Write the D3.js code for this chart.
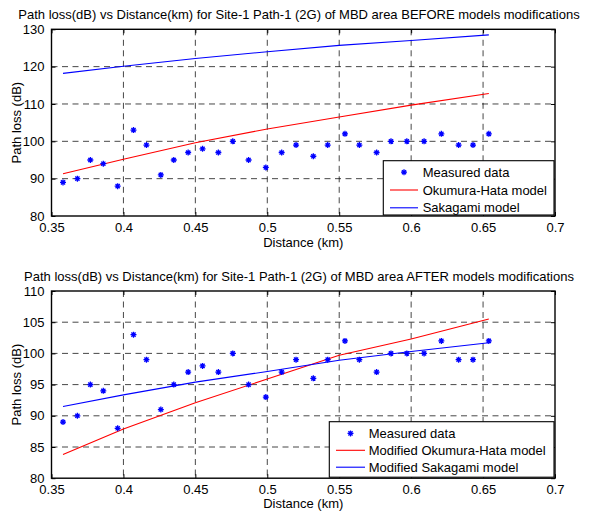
<!DOCTYPE html>
<html><head><meta charset="utf-8">
<script src="https://cdn.jsdelivr.net/npm/d3@7"></script>
<style>
body{margin:0;background:#fff;}
text{font-family:"Liberation Sans",Arial,Helvetica,sans-serif;}
</style></head>
<body>
<svg id="chart" width="594" height="514"></svg>
<script>
// Measured data (same in both panels)
const distances = [0.358,0.368,0.377,0.386,0.396,0.407,0.416,0.426,0.435,0.445,0.455,0.466,0.476,0.487,0.499,0.510,0.520,0.532,0.542,0.554,0.564,0.576,0.586,0.597,0.609,0.621,0.633,0.643,0.654];
const measured  = [89,90,95,94,88,103,99,91,95,97,98,97,100,95,93,97,99,96,99,102,99,97,100,100,100,102,99,99,102];

// Model curves (read at a few distances)
const modelDist = [0.358,0.4,0.45,0.5,0.55,0.6,0.654];
const hataBefore = [91.3,95.2,99.6,103.3,106.5,109.7,112.8];
const sakagamiBefore = [118.2,120.1,122.2,124.0,125.7,127.0,128.5];
const hataAfter = [83.8,87.9,92.1,95.9,99.7,102.3,105.5];
const sakagamiAfter = [91.5,93.35,95.4,97.1,98.9,100.3,101.7];

const xTicks = [0.35,0.4,0.45,0.5,0.55,0.6,0.65,0.7];
const yTicksTop = [80,90,100,110,120,130];
const yTicksBottom = [80,85,90,95,100,105,110];

const titles = [
  "Path loss(dB) vs Distance(km) for Site-1 Path-1 (2G) of MBD area BEFORE models modifications",
  "Path loss(dB) vs Distance(km) for Site-1 Path-1 (2G) of MBD area AFTER models modifications"
];
const legendTop = ["Measured data","Okumura-Hata model","Sakagami model"];
const legendBottom = ["Measured data","Modified Okumura-Hata model","Modified Sakagami model"];

const svg = d3.select("#chart");
const FS = 13;

function panel(cfg){
  const g = svg.append("g");
  const x = d3.scaleLinear().domain([0.35,0.7]).range([51.5,555]);
  const y = d3.scaleLinear().domain(cfg.yDomain).range([cfg.y1,cfg.y0]);
  const [xl,xr] = x.range(); const yt = cfg.y0, yb = cfg.y1;

  // grid
  const gridX = xTicks.slice(1,-1), gridY = cfg.yTicks.slice(1,-1);
  g.selectAll(".gx").data(gridX).join("line")
    .attr("x1",d=>x(d)).attr("x2",d=>x(d)).attr("y1",yt).attr("y2",yb)
    .attr("stroke","#000").attr("stroke-width",0.9).attr("stroke-dasharray","6,4.5").attr("opacity",0.8);
  g.selectAll(".gy").data(gridY).join("line")
    .attr("y1",d=>y(d)).attr("y2",d=>y(d)).attr("x1",xl).attr("x2",xr)
    .attr("stroke","#000").attr("stroke-width",0.9).attr("stroke-dasharray","6,4.5").attr("opacity",0.8);

  // axes with inward ticks
  const ax = g.append("g").attr("transform",`translate(0,${yb})`)
    .call(d3.axisBottom(x).tickValues(xTicks).tickFormat(d=>String(+d.toFixed(2))).tickSizeInner(-4).tickSizeOuter(0).tickPadding(8));
  const axT = g.append("g").attr("transform",`translate(0,${yt})`)
    .call(d3.axisTop(x).tickValues(xTicks).tickFormat("").tickSizeInner(-4).tickSizeOuter(0));
  const ay = g.append("g").attr("transform",`translate(${xl},0)`)
    .call(d3.axisLeft(y).tickValues(cfg.yTicks).tickSizeInner(-4).tickSizeOuter(0).tickPadding(7));
  const ayR = g.append("g").attr("transform",`translate(${xr},0)`)
    .call(d3.axisRight(y).tickValues(cfg.yTicks).tickFormat("").tickSizeInner(-4).tickSizeOuter(0));
  [ax,axT,ay,ayR].forEach(a=>{
    a.select(".domain").remove();
    a.selectAll("line").attr("stroke","#000").attr("stroke-width",1);
    a.selectAll("text").attr("font-size",FS).attr("fill","#000").attr("font-family","Liberation Sans, Arial, sans-serif");
  });
  ax.selectAll("text").attr("dy","0.6em");

  // box
  g.append("rect").attr("x",xl).attr("y",yt).attr("width",xr-xl).attr("height",yb-yt)
    .attr("fill","none").attr("stroke","#000").attr("stroke-width",1.4);

  // model lines
  const line = d3.line().x((d,i)=>x(modelDist[i])).y(d=>y(d));
  g.append("path").datum(cfg.hata).attr("d",line).attr("fill","none").attr("stroke","#ff0000").attr("stroke-width",1.1);
  g.append("path").datum(cfg.saka).attr("d",line).attr("fill","none").attr("stroke","#0000ff").attr("stroke-width",1.1);

  // markers
  const star = "M-3,0L3,0M0,-3L0,3M-2.1,-2.1L2.1,2.1M-2.1,2.1L2.1,-2.1";
  g.selectAll(".pt").data(measured).join("path")
    .attr("transform",(d,i)=>`translate(${x(distances[i])},${y(d)})`)
    .attr("d",star).attr("stroke","#0000ff").attr("stroke-width",1.3).attr("fill","none");

  // title
  g.append("text").attr("x",299).attr("y",cfg.titleY).attr("text-anchor","middle")
    .attr("font-size",FS).text(cfg.title);
  // x label
  g.append("text").attr("x",(xl+xr)/2).attr("y",cfg.xlabY).attr("text-anchor","middle")
    .attr("font-size",FS).text("Distance (km)");
  // y label
  g.append("text").attr("transform",`translate(21,${(yt+yb)/2}) rotate(-90)`).attr("text-anchor","middle")
    .attr("font-size",FS).text("Path loss (dB)");

  // legend
  const L = cfg.legend;
  const lg = g.append("g");
  lg.append("rect").attr("x",L.x0).attr("y",L.y0).attr("width",L.x1-L.x0).attr("height",L.y1-L.y0)
    .attr("fill","#fff").attr("stroke","#000").attr("stroke-width",1.1);
  const rows = L.labels.map((t,i)=>({t,i}));
  const rowY = i=>L.y0+L.first+i*L.step;
  lg.append("path").attr("transform",`translate(${(L.lx0+L.lx1)/2},${rowY(0)})`).attr("d",star)
    .attr("stroke","#0000ff").attr("stroke-width",1.3).attr("fill","none");
  lg.append("line").attr("x1",L.lx0).attr("x2",L.lx1).attr("y1",rowY(1)).attr("y2",rowY(1)).attr("stroke","#ff0000").attr("stroke-width",1.1);
  lg.append("line").attr("x1",L.lx0).attr("x2",L.lx1).attr("y1",rowY(2)).attr("y2",rowY(2)).attr("stroke","#0000ff").attr("stroke-width",1.1);
  lg.selectAll(".lt").data(rows).join("text").attr("x",L.tx).attr("y",d=>rowY(d.i)).attr("dy","0.35em")
    .attr("font-size",FS).text(d=>d.t);
}

panel({yDomain:[80,130], y0:29.3, y1:216, yTicks:yTicksTop, hata:hataBefore, saka:sakagamiBefore,
  title:titles[0], titleY:19, xlabY:247,
  legend:{x0:383.3,x1:554,y0:160.7,y1:215,first:11.5,step:17.8,lx0:390,lx1:418,tx:422.7,labels:legendTop}});
panel({yDomain:[80,110], y0:291, y1:478.2, yTicks:yTicksBottom, hata:hataAfter, saka:sakagamiAfter,
  title:titles[1], titleY:281, xlabY:508,
  legend:{x0:329.3,x1:554,y0:421.7,y1:477.2,first:11.7,step:16.9,lx0:336,lx1:365,tx:368.7,labels:legendBottom}});
</script>
</body></html>
